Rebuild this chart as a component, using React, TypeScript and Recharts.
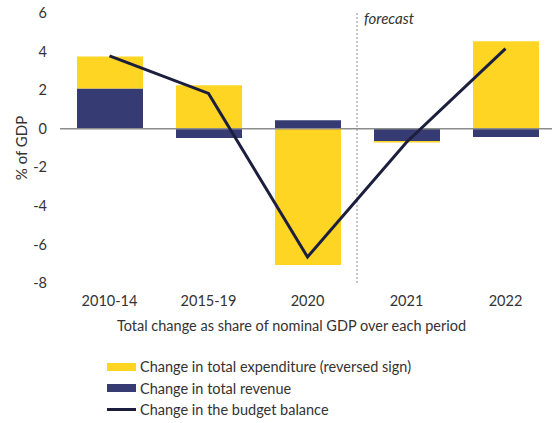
import { ComposedChart, Bar, Line, XAxis, YAxis, ReferenceLine, Legend } from "recharts";

const categories = ["2010-14", "2015-19", "2020", "2021", "2022"];
const expenditure = [1.66, 2.25, -7.07, -0.08, 4.53];
const revenue = [2.09, -0.48, 0.44, -0.64, -0.43];
const balance = [3.78, 1.83, -6.65, -0.7, 4.15];
const yTicks = [6, 4, 2, 0, -2, -4, -6, -8];

const data = categories.map((period, i) => ({
  period,
  expenditure: expenditure[i],
  revenue: revenue[i],
  balance: balance[i],
}));

const YELLOW = "#FFD524";
const NAVY = "#363C73";
const DARK = "#1B1E3D";
const TEXT = "#333333";

const legendItems = [
  { label: "Change in total expenditure (reversed sign)", color: YELLOW, kind: "box" },
  { label: "Change in total revenue", color: NAVY, kind: "box" },
  { label: "Change in the budget balance", color: DARK, kind: "line" },
];

const renderLegend = () => (
  <div style={{ paddingLeft: 107 }}>
    {legendItems.map((it) => (
      <div
        key={it.label}
        style={{ display: "flex", alignItems: "center", height: 21.5, fontSize: 14.5, color: TEXT }}
      >
        <span
          style={{
            display: "inline-block",
            width: 29,
            height: it.kind === "box" ? 8 : 3,
            background: it.color,
            marginRight: 4,
          }}
        />
        {it.label}
      </div>
    ))}
  </div>
);

const ForecastLabel = (props: any) => {
  const vb = props.viewBox || {};
  return (
    <text x={vb.x + 7} y={vb.y + 11} fontSize={15} fontStyle="italic" fill={TEXT}>
      forecast
    </text>
  );
};

export default function App() {
  return (
    <div style={{ position: "absolute", left: 0, top: 0 }}>
      <ComposedChart
        width={552}
        height={423}
        data={data}
        stackOffset="sign"
        margin={{ top: 13, right: -3, bottom: 2, left: 0 }}
        style={{ fontFamily: "Lato" }}
      >
        <XAxis
          dataKey="period"
          axisLine={false}
          tickLine={false}
          tickSize={0}
          tickMargin={13}
          height={73}
          tick={{ fill: TEXT, fontSize: 14.5 }}
          label={{
            value: "Total change as share of nominal GDP over each period",
            position: "insideTop",
            offset: 38,
            dx: -16,
            fill: TEXT,
            fontSize: 14.5,
          }}
        />
        <YAxis
          domain={[-8, 6]}
          ticks={yTicks}
          interval={0}
          axisLine={false}
          tickLine={false}
          tickSize={0}
          tickMargin={13}
          width={60}
          tick={{ fill: TEXT, fontSize: 14.5 }}
          label={{
            value: "% of GDP",
            angle: -90,
            position: "insideLeft",
            offset: 22,
            fill: TEXT,
            fontSize: 15,
            style: { textAnchor: "middle" },
          }}
        />
        <Legend verticalAlign="bottom" height={65} content={renderLegend} />
        <Bar dataKey="revenue" stackId="a" fill={NAVY} barSize={66} isAnimationActive={false} />
        <Bar dataKey="expenditure" stackId="a" fill={YELLOW} barSize={66} isAnimationActive={false} />
        <ReferenceLine y={0} stroke="#8C8C8C" strokeWidth={1.5} />
        <ReferenceLine
          x="2020"
          position="end"
          stroke="#8C8C8C"
          strokeDasharray="2 2"
          label={<ForecastLabel />}
        />
        <Line
          dataKey="balance"
          stroke={DARK}
          strokeWidth={3}
          dot={false}
          activeDot={false}
          isAnimationActive={false}
        />
      </ComposedChart>
    </div>
  );
}
